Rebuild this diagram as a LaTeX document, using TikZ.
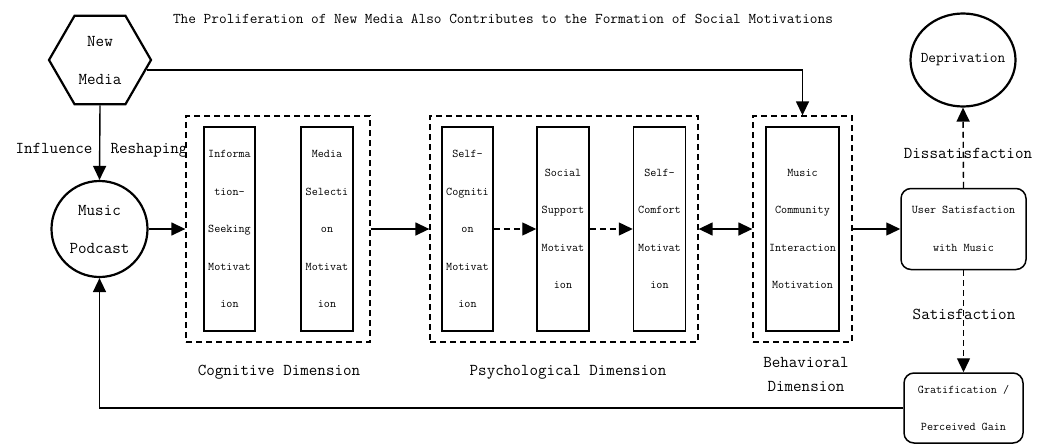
\documentclass[tikz,border=0pt]{standalone}
\usetikzlibrary{shapes.geometric,arrows.meta}
\begin{document}
\begin{tikzpicture}[x=1pt,y=-1pt,
    big/.style={font=\ttfamily\fontsize{16.6}{38}\selectfont},
    mid/.style={font=\ttfamily\fontsize{14.9}{30}\selectfont},
    small/.style={font=\ttfamily\fontsize{11.8}{37.5}\selectfont},
    motive/.style={draw,line width=1.5pt,small,align=center,minimum height=204pt,inner sep=0pt},
    dimbox/.style={draw,line width=1.3pt,dash pattern=on 6pt off 4pt,minimum height=226pt,inner sep=0pt},
    result/.style={draw,line width=1.5pt,rounded corners=10pt,small,align=center,inner sep=0pt},
    flow/.style={-{Triangle[length=14pt,width=13pt]},line width=1.4pt},
    dflow/.style={flow,dash pattern=on 6pt off 4pt},
    twoway/.style={{Triangle[length=14pt,width=13pt]}-{Triangle[length=14pt,width=13pt]},line width=1.4pt}]
    \useasboundingbox (0,0) rectangle (1051,444);
    \node[draw,regular polygon,regular polygon sides=6,minimum size=102pt,line width=2.2pt,big,align=center,inner sep=0pt] (nm) at (100,60) {New\\Media};
    \node[draw,circle,minimum size=96pt,line width=2.2pt,big,align=center,inner sep=0pt] (mp) at (99.5,229) {Music\\Podcast};
    \node[draw,ellipse,minimum width=105pt,minimum height=93pt,line width=2.2pt] (dep) at (963,60) {};
    \node[mid] (deplbl) at (dep) {Deprivation};
    \node[mid] (ttl) at (503,19) {The Proliferation of New Media Also Contributes to the Formation of Social Motivations};
    \node[dimbox,minimum width=184pt] (cog) at (278,229) {};
    \node[dimbox,minimum width=268pt] (psy) at (564,229) {};
    \node[dimbox,minimum width=99pt] (bhv) at (802.5,229) {};
    \node[motive,minimum width=51pt] (info) at (229.5,229) {Informa\\tion-\\Seeking\\Motivat\\ion};
    \node[motive,minimum width=52pt] (media) at (327,229) {Media\\Selecti\\on\\Motivat\\ion};
    \node[motive,minimum width=51pt] (selfcog) at (467.5,229) {Self-\\Cogniti\\on\\Motivat\\ion};
    \node[motive,minimum width=52pt] (social) at (563,229) {Social\\Support\\Motivat\\ion};
    \node[motive,minimum width=52pt] (comfort) at (659.5,229) {Self-\\Comfort\\Motivat\\ion};
    \node[motive,minimum width=73pt] (comm) at (802.5,229) {Music\\Community\\Interaction\\Motivation};
    \node[result,minimum width=125pt,minimum height=81pt] (usat) at (963.5,229) {User Satisfaction\\with Music};
    \node[result,minimum width=119pt,minimum height=70pt] (grat) at (963.5,408) {Gratification /\\Perceived Gain};
    \node[big] (infl) at (54,148) {Influence};
    \node[big] (resh) at (149,150) {Reshaping};
    \node[big] (cogl) at (279,372) {Cognitive Dimension};
    \node[big] (psyl) at (568,372) {Psychological Dimension};
    \node[big,align=center,font=\ttfamily\fontsize{16.6}{24}\selectfont] (bhvl) at (806,374) {Behavioral\\Dimension};
    \node[big] (dissl) at (968,153) {Dissatisfaction};
    \node[big] (satl) at (964,314) {Satisfaction};
    \draw[flow] (nm.south) -- (mp.north);
    \draw[flow] (nm.-12) -| (bhv.north);
    \draw[flow] (mp.east) -- (cog.west);
    \draw[flow] (cog.east) -- (psy.west);
    \draw[dflow] (selfcog.east) -- (social.west);
    \draw[dflow] (social.east) -- (comfort.west);
    \draw[twoway] (psy.east) -- (bhv.west);
    \draw[flow] (bhv.east) -- (usat.west);
    \draw[dflow] (usat.north) -- (dep.south);
    \draw[dflow] (usat.south) -- (grat.north);
    \draw[flow] (grat.west) -| (mp.south);
\end{tikzpicture}
\end{document}
